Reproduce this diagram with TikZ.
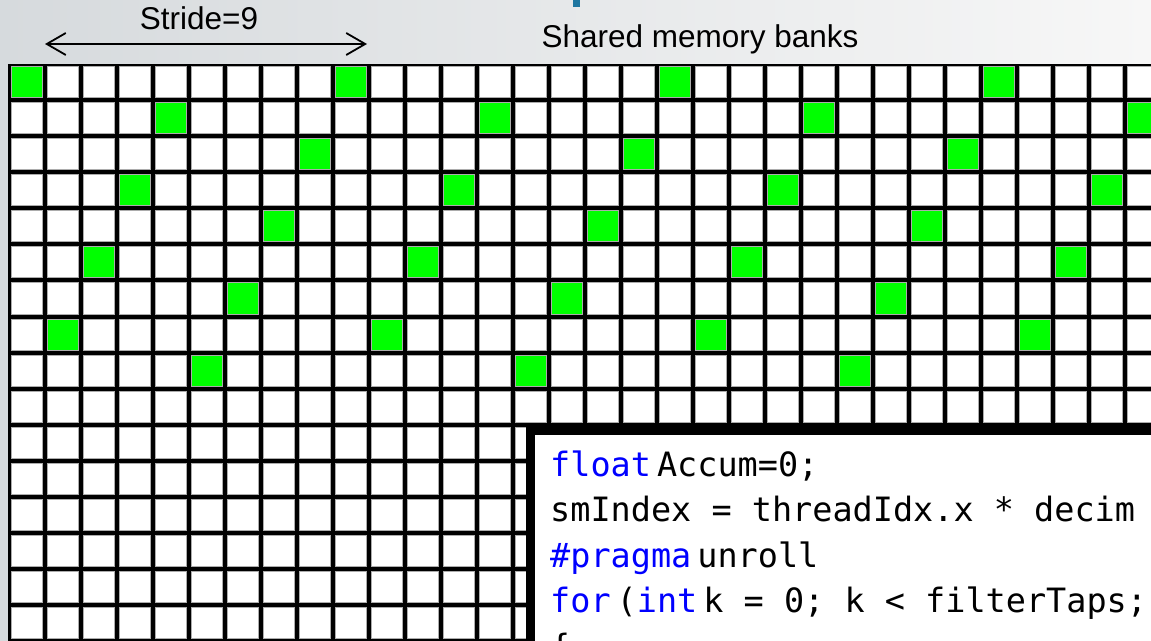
\documentclass[tikz,border=0pt]{standalone}
\usepackage{fontspec}
\setmainfont{Liberation Sans}
\newfontfamily\codefont{DejaVu Sans Mono}
\usetikzlibrary{arrows.meta}
\newcommand{\kw}[1]{\textcolor{kwblue}{#1}\hspace{6bp}}
\begin{document}
\begin{tikzpicture}[x=1bp,y=-1bp,
    label/.style={anchor=base, inner sep=0pt, font=\fontsize{31.5bp}{36bp}\selectfont},
    code/.style={anchor=base west, inner sep=0pt, font=\codefont\fontsize{33.5bp}{40bp}\selectfont},
    cell/.style={draw=gray!65, line width=1bp}]
        \definecolor{bgleft}{RGB}{214,218,221}
        \definecolor{bgright}{RGB}{247,247,247}
        \definecolor{bankgreen}{RGB}{0,255,0}
        \definecolor{titleblue}{RGB}{30,118,160}
        \definecolor{kwblue}{RGB}{0,0,255}
        \useasboundingbox (0,0) rectangle (1151,641);
        \clip (0,0) rectangle (1151,641);
        \shade[left color=bgleft, right color=bgright] (0,0) rectangle (1151,641);
        \fill[titleblue] (573,0) rectangle (580,7);
        % banks: 32 per row, every 9th word in green
        \fill[black] (8,64) rectangle (1170,660);
        \foreach \r in {0,...,15}
            \foreach \c in {0,...,31}{
                \pgfmathtruncatemacro{\idx}{32*\r+\c}
                \pgfmathtruncatemacro{\hit}{(mod(\idx,9)==0)&&(\idx<288)}
                \ifnum\hit=1 \def\cellcol{bankgreen}\else\def\cellcol{white}\fi
                \draw[cell, fill=\cellcol] (11+36*\c,67+36*\r) rectangle ++(31,31);
            }
        \node[label] (stride) at (199,30) {Stride=9};
        \node[label] (banks) at (700,48) {Shared memory banks};
        \coordinate (sl) at (45,44);
        \coordinate (sr) at (367,44);
        \draw[{Straight Barb[length=19bp,width=22bp]}-{Straight Barb[length=19bp,width=22bp]}, line width=1.8bp] (sl) -- (sr);
        % code box
        \draw[line width=9bp, fill=white] (530.5,430.5) rectangle (1180,680);
        \node[code] (line1) at (550,476) {\kw{float}Accum=0;};
        \node[code] (line2) at (550,521.5) {smIndex = threadIdx.x * decim};
        \node[code] (line3) at (550,567) {\kw{\#pragma}unroll};
        \node[code] (line4) at (550,612.5) {\kw{for}(\kw{int}k = 0; k < filterTaps;};
        \node[code] (line5) at (550,658) {\{};
    \end{tikzpicture}
\end{document}
